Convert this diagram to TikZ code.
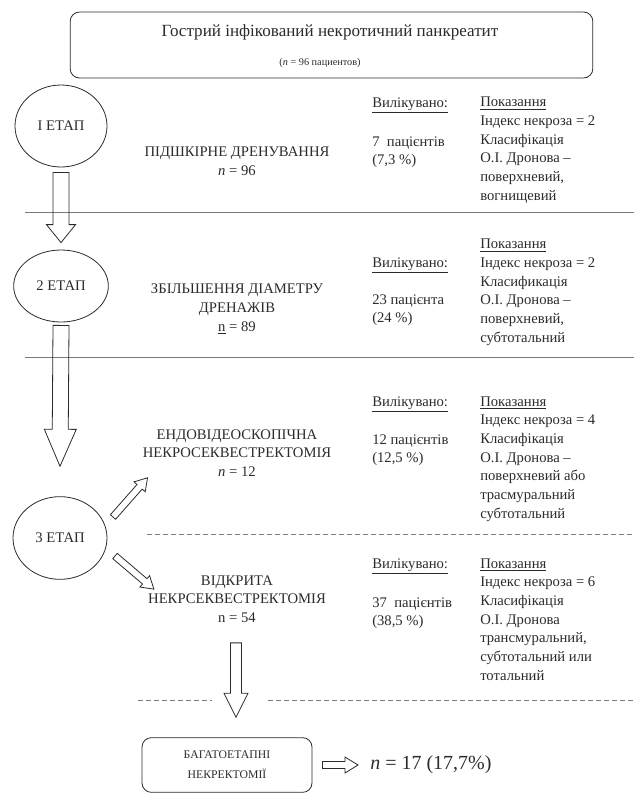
\documentclass[tikz,border=0pt]{standalone}
\usepackage{fontspec}
\setmainfont{Liberation Serif}
\usetikzlibrary{calc,positioning,shapes.geometric}
\definecolor{ink}{HTML}{2B2B2B}
\definecolor{rulegray}{HTML}{7A7A7A}
\tikzset{
  basefont/.style={font=\fontsize{11}{14}\selectfont,text=ink},
  etap/.style={ellipse,draw=ink,line width=0.6pt,basefont,inner sep=0pt},
  proc/.style={basefont,align=center,inner sep=3pt},
  coltext/.style={basefont,align=left,anchor=base west,inner sep=0pt},
  sepline/.style={draw=rulegray,line width=0.7pt},
  sepdash/.style={sepline,dash pattern=on 3.75pt off 2.25pt},
  roundbox/.style={draw=ink,line width=0.6pt,rounded corners=7pt},
  arrline/.style={draw=ink,line width=0.6pt,line join=miter},
  % hollow block arrow: half shaft, half head, head length
  blockarr/.style n args={3}{arrline,to path={
    let \p1=(\tikztostart),\p2=(\tikztotarget),\n1={veclen(\x2-\x1,\y2-\y1)} in
    ($(\p1)!#1!90:(\p2)$) -- ($($(\p1)!\n1-#3!(\p2)$)!#1!90:(\p2)$)
    -- ($($(\p1)!\n1-#3!(\p2)$)!#2!90:(\p2)$) -- (\p2)
    -- ($($(\p1)!\n1-#3!(\p2)$)!#2!-90:(\p2)$) -- ($($(\p1)!\n1-#3!(\p2)$)!#1!-90:(\p2)$)
    -- ($(\p1)!#1!-90:(\p2)$) -- cycle}}
}
\begin{document}
\begin{tikzpicture}[x=0.75pt,y=-0.75pt]
  \useasboundingbox (0,0) rectangle (636,794);

  % head of the scheme
  \node[roundbox,minimum width=392pt,minimum height=49.5pt] (top) at (331.5,45) {};
  \node[font=\fontsize{12.8}{15}\selectfont,text=ink] (title) at (330,32) {Гострий інфікований некротичний панкреатит};
  \node[font=\fontsize{7.7}{10}\selectfont,text=ink] (total) at (320,63) {(\textit{n} = 96 пациентов)};

  % stages
  \node[etap,minimum width=69pt,minimum height=61.5pt] (st1) at (61,126) {І ЕТАП};
  \node[etap,minimum width=71pt,minimum height=54pt] (st2) at (61,286) {2 ЕТАП};
  \node[etap,minimum width=70.5pt,minimum height=62pt] (st3) at (60,538) {3 ЕТАП};

  \node[proc] (mid1) at (237,161) {ПІДШКІРНЕ ДРЕНУВАННЯ\\\textit{n} = 96};
  \node[proc] (mid2) at (237,309) {ЗБІЛЬШЕННЯ ДІАМЕТРУ\\ДРЕНАЖІВ\\\underline{n} = 89};
  \node[proc] (mid3) at (237,453) {ЕНДОВІДЕОСКОПІЧНА\\НЕКРОСЕКВЕСТРЕКТОМІЯ\\\textit{n} = 12};
  \node[proc] (mid4) at (237,599) {ВІДКРИТА\\НЕКРСЕКВЕСТРЕКТОМІЯ\\n = 54};

  % results and indications (anchored at the last line)
  \node[coltext] (cured1) at (372,107) {\underline{Вилікувано:}};
  \node[coltext] (count1) at (372,164.7) {7~~пацієнтів\\(7,3 \%)};
  \node[coltext] (ind1) at (480,200.3) {\underline{Показання}\\Індекс некроза = 2\\Класифікація\\О.І. Дронова –\\поверхневий,\\вогнищевий};

  \node[coltext] (cured2) at (372,267) {\underline{Вилікувано:}};
  \node[coltext] (count2) at (372,322.7) {23 пацієнта\\(24 \%)};
  \node[coltext] (ind2) at (480,342.3) {\underline{Показання}\\Індекс некроза = 2\\Класификація\\О.І. Дронова –\\поверхневий,\\субтотальний};

  \node[coltext] (cured3) at (372,406) {\underline{Вилікувано:}};
  \node[coltext] (count3) at (372,462.7) {12 пацієнтів\\(12,5 \%)};
  \node[coltext] (ind3) at (480,518) {\underline{Показання}\\Індекс некроза = 4\\Класифікація\\О.І. Дронова –\\поверхневий або\\трасмуральний\\субтотальний};

  \node[coltext] (cured4) at (372,568) {\underline{Вилікувано:}};
  \node[coltext] (count4) at (372,625.7) {37~~пацієнтів\\(38,5 \%)};
  \node[coltext] (ind4) at (480,680) {\underline{Показання}\\Індекс некроза = 6\\Класифікація\\О.І. Дронова\\трансмуральний,\\субтотальний или\\тотальний};

  % separators
  \draw[sepline] (25,212) -- (634,212);
  \draw[sepline] (25,357) -- (634,357);
  \draw[sepdash] (147,534) -- (632,534);
  \draw[sepdash] (138,700) -- (212,700);
  \draw[sepdash] (268,700) -- (635,700);

  % final step
  \node[roundbox,font=\fontsize{8.8}{15}\selectfont,text=ink,align=center,minimum width=127.5pt,minimum height=41pt] (multi) at (227,765) {БАГАТОЕТАПНІ\\НЕКРЕКТОМІЇ};
  \node[font=\fontsize{15}{18}\selectfont,text=ink,anchor=west,inner sep=3pt] (res) at (366,765) {\textit{n} = 17 (17,7\%)};

  % arrows
  \draw[blockarr={6pt}{10.9pt}{13.5pt}] ($(st1.south)+(0,5)$) to ($(st2.north)+(0,-7)$);
  \draw[blockarr={6pt}{12pt}{27.75pt}] ($(st2.south)+(0,3)$) to ($(st3.north)+(0,-30)$);
  \draw[blockarr={2.6pt}{5.6pt}{9pt}] ($(st3.center)+(53,-21)$) to ($(mid3.south west)+(9,-3)$);
  \draw[blockarr={2.6pt}{5.6pt}{9pt}] ($(st3.center)+(55,18)$) to ($(mid4.north west)+(10,18)$);
  \draw[blockarr={4.1pt}{9pt}{18pt}] ($(mid4.south)+(-1,16)$) to ($(mid4.south |- multi.north)+(-1,-20)$);
  \draw[blockarr={2.6pt}{6pt}{9.75pt}] ($(multi.east)+(10,0)$) to ($(res.west)+(-8,0)$);
\end{tikzpicture}
\end{document}
